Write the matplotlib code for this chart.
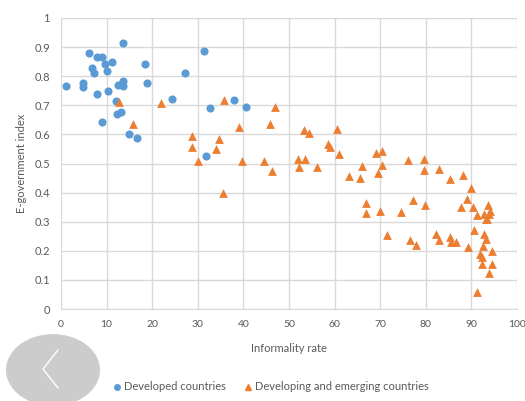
import matplotlib.pyplot as plt
from matplotlib.patches import Circle
from matplotlib.lines import Line2D

# developed countries (informality rate, e-government index)
dev_x = [1.0, 4.9, 4.8, 6.2, 6.7, 7.3, 8.0, 8.0, 9.1, 9.1, 9.6, 10.0, 10.3, 11.2,
         12.1, 12.2, 13.1, 12.6, 13.5, 13.5, 13.5, 15.0, 16.6, 18.5, 18.9, 24.4,
         27.2, 31.4, 32.7, 31.8, 37.9, 40.5]
dev_y = [0.766, 0.776, 0.762, 0.879, 0.829, 0.81, 0.867, 0.739, 0.865, 0.643, 0.842,
         0.817, 0.749, 0.849, 0.714, 0.670, 0.677, 0.770, 0.784, 0.766, 0.914, 0.600,
         0.589, 0.841, 0.776, 0.721, 0.81, 0.888, 0.690, 0.527, 0.718, 0.694]

# developing and emerging countries
emg_x = [12.8, 15.8, 21.9, 28.7, 28.8, 30.1, 33.9, 34.7, 35.8, 39.0, 39.6, 35.6,
         47.0, 45.9, 44.6, 46.3, 53.3, 54.4, 60.5, 58.6, 59.0, 60.9, 52.0, 53.4,
         52.3, 56.1, 63.2, 65.6, 66.0, 69.1, 70.4, 70.4, 69.6, 66.8, 66.8, 70.0,
         71.6, 74.6, 76.1, 77.3, 76.5, 77.8, 79.7, 79.7, 79.9, 82.8, 82.2, 82.8,
         85.3, 85.2, 85.6, 86.6, 88.1, 90.0, 89.0, 87.7, 90.4, 91.2, 89.2, 90.6,
         93.6, 94.1, 92.8, 93.8, 93.1, 93.5, 92.8, 93.3, 92.6, 94.5, 91.9, 92.4,
         92.3, 94.5, 93.8, 91.3]
emg_y = [0.712, 0.635, 0.708, 0.596, 0.558, 0.508, 0.550, 0.585, 0.717, 0.626, 0.51,
         0.398, 0.693, 0.636, 0.509, 0.473, 0.615, 0.604, 0.620, 0.567, 0.558, 0.532,
         0.515, 0.515, 0.488, 0.488, 0.457, 0.449, 0.491, 0.536, 0.543, 0.495, 0.468,
         0.364, 0.329, 0.337, 0.255, 0.332, 0.512, 0.376, 0.236, 0.221, 0.515, 0.477,
         0.356, 0.481, 0.257, 0.236, 0.446, 0.249, 0.231, 0.231, 0.460, 0.415, 0.377,
         0.35, 0.35, 0.323, 0.213, 0.271, 0.357, 0.338, 0.326, 0.325, 0.308, 0.308,
         0.258, 0.24, 0.218, 0.2, 0.188, 0.178, 0.155, 0.155, 0.123, 0.058]

blue = '#5B9BD5'
orange = '#ED7D31'
grey = '#595959'

plt.rcParams['font.family'] = ['Lato', 'DejaVu Sans']

fig = plt.figure(figsize=(5.25, 4.01), dpi=100)
ax = fig.add_axes([61/525, 1 - 309/401, 456/525, 291/401])

ax.scatter(dev_x, dev_y, s=34, color=blue, marker='o', linewidths=0, zorder=3)
ax.scatter(emg_x, emg_y, s=40, color=orange, marker='^', linewidths=0, zorder=3)

ax.set_xlim(0, 100)
ax.set_ylim(0, 1)
ax.set_xticks(range(0, 101, 10))
ax.set_yticks([i / 10 for i in range(11)])
ax.set_yticklabels(['0'] + ['0.%d' % i for i in range(1, 10)] + ['1'])
ax.grid(True, color='#D9D9D9', linewidth=1)
ax.set_axisbelow(True)
for s in ['top', 'right', 'left']:
    ax.spines[s].set_visible(False)
ax.spines['bottom'].set_color('#D9D9D9')
ax.tick_params(length=0, labelsize=8, colors=grey, pad=8)
ax.tick_params(axis='x', labelsize=7.5)

ax.set_xlabel('Informality rate', fontsize=8, color=grey, labelpad=10)
ax.set_ylabel('E-government index', fontsize=8, color=grey, labelpad=5)

handles = [
    Line2D([], [], marker='o', color=blue, linestyle='', markersize=4),
    Line2D([], [], marker='^', color=orange, linestyle='', markersize=4.5),
]
fig.legend(handles, ['Developed countries', 'Developing and emerging countries'],
           loc='center', bbox_to_anchor=(270/525, 1 - 387/401), ncol=2, frameon=False,
           fontsize=8, labelcolor=grey, handletextpad=0.1, columnspacing=1.5,
           handlelength=1)

# grey round back button overlay in the bottom-left corner
fig.patches.append(Circle((53/525, 1 - 370/401), 47/525, transform=fig.transFigure,
                          facecolor='#CCCCCC', edgecolor='none', zorder=10))
fig.add_artist(Line2D([58/525, 43/525, 58/525], [1 - 350/401, 1 - 369/401, 1 - 388/401],
                      transform=fig.transFigure, color='white', linewidth=1, zorder=11))

fig.savefig('out.png', dpi=100)
